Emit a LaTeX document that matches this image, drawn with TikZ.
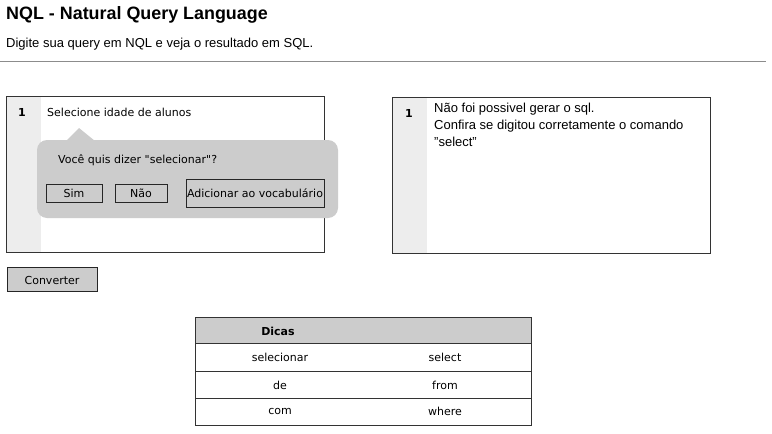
\documentclass[tikz,border=0pt]{standalone}
\usepackage{fontspec}
\setmainfont{Liberation Sans}
\newfontfamily\sk{DejaVu Sans}
\begin{document}
\begin{tikzpicture}[x=1pt,y=-1pt,
  every node/.style={inner sep=0pt},
  edge/.style={draw=black!80,line width=0.8pt},
  gutter/.style={fill=black!7},
  btn/.style={draw=black!85,line width=0.8pt},
  sktext/.style={font=\sk\fontsize{11}{13}\selectfont,anchor=west},
  sqltext/.style={font=\fontsize{13}{15}\selectfont,anchor=west},
  cell/.style={font=\sk\fontsize{11}{13}\selectfont}]
\useasboundingbox (0,0) rectangle (772,434);
\fill[white] (0,0) rectangle (772,434);
% header
\node[anchor=west,font=\bfseries\fontsize{17.9}{20}\selectfont] (title) at (6,15) {NQL - Natural Query Language};
\node[anchor=west,font=\fontsize{13}{15}\selectfont] (sub) at (6,44) {Digite sua query em NQL e veja o resultado em SQL.};
\coordinate (hl) at (0,61);
\coordinate (hr) at (766,61);
\draw[black!45,line width=1pt] (hl) -- (hr);
% left editor
\fill[gutter] (6,96) rectangle (41,252);
\draw[edge] (6,96) rectangle (324,252);
\node[font=\sk\bfseries\fontsize{11}{13}\selectfont] (ln1) at (22,112) {1};
\node[sktext] (q) at (47,112) {Selecione idade de alunos};
% popup
\fill[black!20,rounded corners=10pt] (37,140) rectangle (338,218);
\fill[black!20] (66,141) -- (79,128) -- (95,141) -- cycle;
\node[sktext] (ask) at (58,160) {Você quis dizer "selecionar"?};
\draw[btn] (46,184) rectangle (102,202);
\node[cell] (sim) at (74,193) {Sim};
\draw[btn] (115,184) rectangle (167,202);
\node[cell] (nao) at (141,193) {Não};
\draw[btn] (186,179) rectangle (324,207);
\node[cell] (add) at (255,193) {Adicionar ao vocabulário};
% right editor
\fill[gutter] (392,97) rectangle (427,253);
\draw[edge] (392,97) rectangle (710,253);
\node[font=\sk\bfseries\fontsize{11}{13}\selectfont] (ln2) at (409,113) {1};
\node[sqltext] (r1) at (434,109) {Não foi possivel gerar o sql.};
\node[sqltext] (r2) at (434,126) {Confira se digitou corretamente o comando};
\node[sqltext] (r3) at (434,142) {"select"};
% converter
\draw[btn,fill=black!20] (7,267) rectangle (97,291);
\node[cell] (conv) at (52,280) {Converter};
% table
\fill[black!20] (195,317) rectangle (531,343);
\draw[edge] (195,317) rectangle (531,425);
\draw[edge] (195,343) -- (531,343);
\draw[edge] (195,371) -- (531,371);
\draw[edge] (195,398) -- (531,398);
\node[font=\sk\bfseries\fontsize{11}{13}\selectfont] (dicas) at (278,331) {Dicas};
\node[cell] (c11) at (280,357) {selecionar};
\node[cell] (c12) at (445,357) {select};
\node[cell] (c21) at (280,385) {de};
\node[cell] (c22) at (445,385) {from};
\node[cell] (c31) at (280,411) {com};
\node[cell] (c32) at (445,411) {where};
\end{tikzpicture}
\end{document}
